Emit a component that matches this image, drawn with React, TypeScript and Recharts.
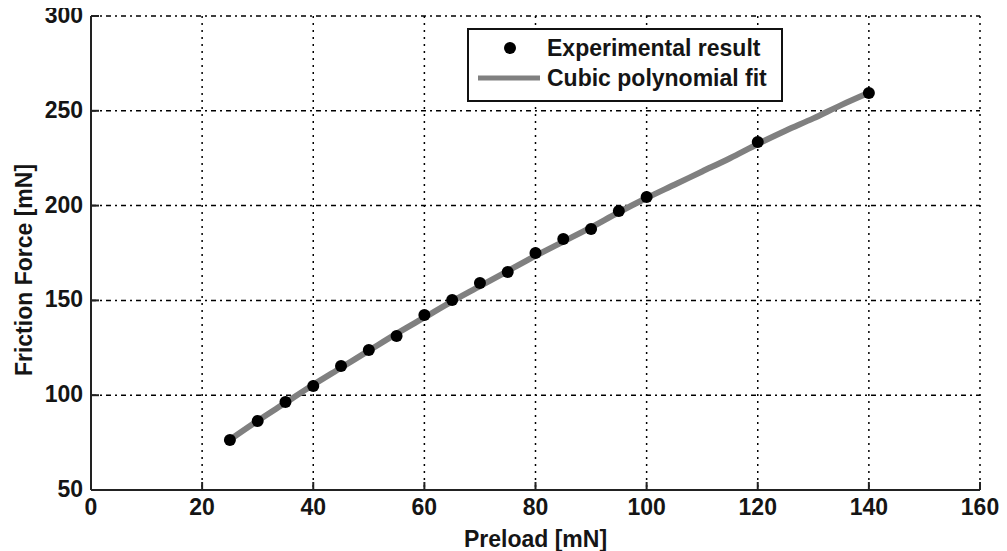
import React from "react";
import {
  ComposedChart,
  Scatter,
  Line,
  XAxis,
  YAxis,
  CartesianGrid,
  Legend,
} from "recharts";

const preload = [25, 30, 35, 40, 45, 50, 55, 60, 65, 70, 75, 80, 85, 90, 95, 100, 120, 140];
const friction = [76.4, 86.4, 96.4, 104.9, 115.4, 123.8, 131.2, 142.3, 150.2, 159.2, 165, 175, 182.4, 187.7, 197.2, 204.5, 233.5, 259.4];

const fitX = [25, 30, 35, 40, 45, 50, 55, 60, 65, 70, 75, 80, 85, 90, 95, 100, 105, 110, 115, 120, 125, 130, 135, 140];
const fitY = [76.5, 86.5, 96, 105.5, 114.5, 123.5, 132.5, 141, 149.5, 157.5, 165.5, 173.5, 181, 188.5, 196.5, 204, 211, 218, 225, 232.5, 239.5, 246, 253, 259.5];

const xTicks = [0, 20, 40, 60, 80, 100, 120, 140, 160];
const yTicks = [50, 100, 150, 200, 250, 300];

const seriesNames = ["Experimental result", "Cubic polynomial fit"];
const xLabel = "Preload [mN]";
const yLabel = "Friction Force [mN]";

const expData = preload.map((x, i) => ({ x, y: friction[i] }));
const fitData = fitX.map((x, i) => ({ x, y: fitY[i] }));

const FONT = "'Liberation Sans', Arial, sans-serif";
const TXT = "#151515";
const AX = "#222";
const FS = 23;

const BottomTick = (p: any) => {
  const { x, y, payload } = p;
  return (
    <g>
      <line x1={x} y1={y} x2={x} y2={y - 8} stroke={AX} strokeWidth={2} />
      <text x={x} y={y + 25} textAnchor="middle" fontFamily={FONT} fontWeight="bold" fontSize={FS} fill={TXT}>
        {payload.value}
      </text>
    </g>
  );
};
const TopTick = (p: any) => {
  const { x, y } = p;
  return <line x1={x} y1={y} x2={x} y2={y + 8} stroke={AX} strokeWidth={2} />;
};
const LeftTick = (p: any) => {
  const { x, y, payload } = p;
  return (
    <g>
      <line x1={x} y1={y} x2={x + 8} y2={y} stroke={AX} strokeWidth={2} />
      <text x={x - 8} y={y + 7} textAnchor="end" fontFamily={FONT} fontWeight="bold" fontSize={FS} fill={TXT}>
        {payload.value}
      </text>
    </g>
  );
};
const RightTick = (p: any) => {
  const { x, y } = p;
  return <line x1={x} y1={y} x2={x - 8} y2={y} stroke={AX} strokeWidth={2} />;
};

const LegendBox = () => (
  <svg width={316} height={74} style={{ display: "block" }}>
    <rect x={1} y={1} width={314} height={72} fill="#fff" stroke="#111" strokeWidth={2} />
    <circle cx={43} cy={20} r={6} fill="#000" />
    <text x={80} y={28} fontFamily={FONT} fontWeight="bold" fontSize={FS} fill={TXT}>
      {seriesNames[0]}
    </text>
    <line x1={11} y1={50} x2={73} y2={50} stroke="#808080" strokeWidth={5} />
    <text x={80} y={58} fontFamily={FONT} fontWeight="bold" fontSize={FS} fill={TXT}>
      {seriesNames[1]}
    </text>
  </svg>
);

export default function App() {
  return (
    <div style={{ width: 1000, height: 551, marginTop: -8, background: "#fff" }}>
      <ComposedChart width={1000} height={551} margin={{ top: 16, right: 28, bottom: 0, left: 0 }}>
        <CartesianGrid horizontal={true} vertical={false} stroke="#000" strokeWidth={1.5} strokeDasharray="5 4 2 4" />
        <CartesianGrid horizontal={false} vertical={true} stroke="#000" strokeWidth={1.5} strokeDasharray="2 5" />
        <XAxis
          type="number"
          dataKey="x"
          domain={[0, 160]}
          ticks={xTicks}
          height={61}
          tickSize={0}
          tickMargin={0}
          tickLine={false}
          tick={<BottomTick />}
          axisLine={{ stroke: AX, strokeWidth: 2 }}
          interval={0}
          label={{
            value: xLabel,
            position: "insideBottom",
            offset: 4,
            fontFamily: FONT,
            fontWeight: "bold",
            fontSize: FS,
            fill: TXT,
          }}
        />
        <XAxis
          xAxisId="top"
          orientation="top"
          type="number"
          domain={[0, 160]}
          ticks={xTicks}
          height={0}
          tickSize={0}
          tickMargin={0}
          tickLine={false}
          tick={<TopTick />}
          axisLine={{ stroke: AX, strokeWidth: 2 }}
          interval={0}
        />
        <YAxis
          type="number"
          dataKey="y"
          domain={[50, 300]}
          ticks={yTicks}
          width={83}
          tickSize={0}
          tickMargin={0}
          tickLine={false}
          tick={<LeftTick />}
          axisLine={{ stroke: AX, strokeWidth: 2 }}
          interval={0}
          label={{
            value: yLabel,
            angle: -90,
            position: "insideLeft",
            dx: 11,
            dy: 17,
            style: { textAnchor: "middle" },
            fontFamily: FONT,
            fontWeight: "bold",
            fontSize: FS,
            fill: TXT,
          }}
        />
        <YAxis
          yAxisId="right"
          orientation="right"
          type="number"
          domain={[50, 300]}
          ticks={yTicks}
          width={0}
          tickSize={0}
          tickMargin={0}
          tickLine={false}
          tick={<RightTick />}
          axisLine={{ stroke: AX, strokeWidth: 2 }}
          interval={0}
        />
        <Scatter
          name={seriesNames[0]}
          data={expData}
          fill="#000"
          shape={(p: any) => <circle cx={p.cx} cy={p.cy} r={6} fill="#000" />}
          isAnimationActive={false}
        />
        <Line
          name={seriesNames[1]}
          data={fitData}
          dataKey="y"
          type="monotone"
          stroke="#808080"
          strokeWidth={6}
          strokeLinecap="square"
          dot={false}
          activeDot={false}
          isAnimationActive={false}
        />
        <Legend
          content={<LegendBox />}
          layout="horizontal"
          verticalAlign="middle"
          align="center"
          wrapperStyle={{ position: "absolute", left: 459, top: 28, width: 316, height: 74 }}
        />
      </ComposedChart>
    </div>
  );
}
